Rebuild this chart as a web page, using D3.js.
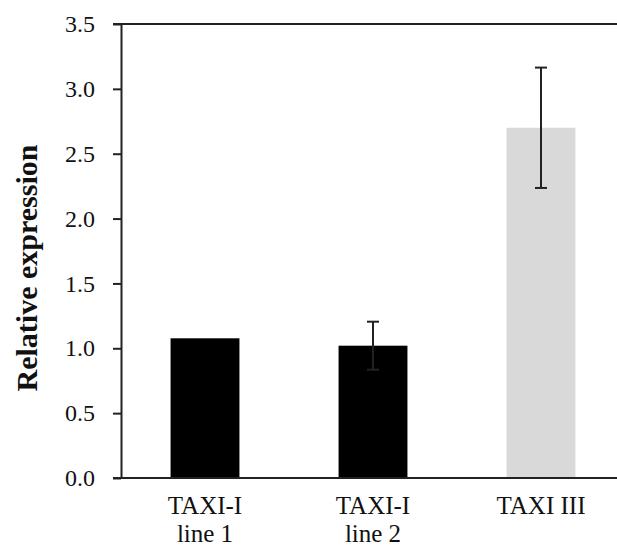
<!DOCTYPE html>
<html>
<head>
<meta charset="utf-8">
<script src="https://cdn.jsdelivr.net/npm/d3@7"></script>
<style>
  html, body { margin: 0; padding: 0; background: #fff; }
  svg { display: block; }
  svg text { font-family: "Liberation Serif", "Times New Roman", "DejaVu Serif", serif !important; fill: #111; }
</style>
</head>
<body>
<svg id="chart" width="617" height="548"></svg>
<script>
// ---- data ----
const categories = ["TAXI-I\nline 1", "TAXI-I\nline 2", "TAXI III"];
const values = [1.077, 1.02, 2.70];
const errors = [0, 0.185, 0.464];
const barColors = ["#000000", "#000000", "#d9d9d9"];
const yTicks = [0, 0.5, 1.0, 1.5, 2.0, 2.5, 3.0, 3.5];
const yTitle = "Relative expression";

(function () {
const FONT = "'Liberation Serif', 'Times New Roman', serif";
const svg = d3.select("#chart");
const mLeft = 121, mRight = 625, mTop = 24, mBottom = 478;

const y = d3.scaleLinear().domain([0, 3.5]).range([mBottom, mTop]);
const x = d3.scaleBand().domain(categories).range([mLeft, mRight])
  .paddingInner(0.59).paddingOuter(0.295);

// bars
svg.append("g").selectAll("rect").data(categories).join("rect")
  .attr("x", d => x(d))
  .attr("width", x.bandwidth())
  .attr("y", (d, i) => y(values[i]))
  .attr("height", (d, i) => y(0) - y(values[i]))
  .attr("fill", (d, i) => barColors[i]);

// error bars
const eg = svg.append("g").attr("stroke", "#222").attr("stroke-width", 2);
categories.forEach((c, i) => {
  if (!errors[i]) return;
  const cx = x(c) + x.bandwidth() / 2;
  const hi = y(values[i] + errors[i]), lo = y(values[i] - errors[i]);
  eg.append("line").attr("x1", cx).attr("x2", cx).attr("y1", hi).attr("y2", lo);
  eg.append("line").attr("x1", cx - 6).attr("x2", cx + 6).attr("y1", hi).attr("y2", hi);
  eg.append("line").attr("x1", cx - 6).attr("x2", cx + 6).attr("y1", lo).attr("y2", lo);
});

// y axis
const yAxis = d3.axisLeft(y).tickValues(yTicks).tickFormat(d3.format(".1f"))
  .tickSizeInner(8).tickSizeOuter(0).tickPadding(18);
const yg = svg.append("g").attr("transform", `translate(${mLeft},0)`).call(yAxis);
yg.attr("font-family", FONT).attr("font-size", 24);
yg.select(".domain").attr("stroke", "#222").attr("stroke-width", 2);
yg.selectAll(".tick line").attr("stroke", "#222").attr("stroke-width", 2);
yg.selectAll(".tick text").attr("fill", "#111");

// top and bottom frame lines
svg.append("line").attr("x1", mLeft - 8).attr("x2", 617)
  .attr("y1", y(3.5)).attr("y2", y(3.5)).attr("stroke", "#222").attr("stroke-width", 2);
svg.append("line").attr("x1", mLeft - 8).attr("x2", 617)
  .attr("y1", y(0)).attr("y2", y(0)).attr("stroke", "#222").attr("stroke-width", 2);

// x labels
const xl = svg.append("g").attr("font-family", FONT).attr("font-size", 25);
categories.forEach(c => {
  const cx = x(c) + x.bandwidth() / 2;
  const t = xl.append("text").attr("text-anchor", "middle")
    .attr("x", cx).attr("y", 514);
  c.split("\n").forEach((line, k) => {
    t.append("tspan").attr("x", cx).attr("dy", k === 0 ? 0 : 28).text(line);
  });
});

// y title
svg.append("text")
  .attr("transform", `translate(37, 268) rotate(-90)`)
  .attr("text-anchor", "middle")
  .attr("font-family", FONT)
  .attr("font-size", 30).attr("font-weight", "bold")
  .text(yTitle);
})();
</script>
</body>
</html>
